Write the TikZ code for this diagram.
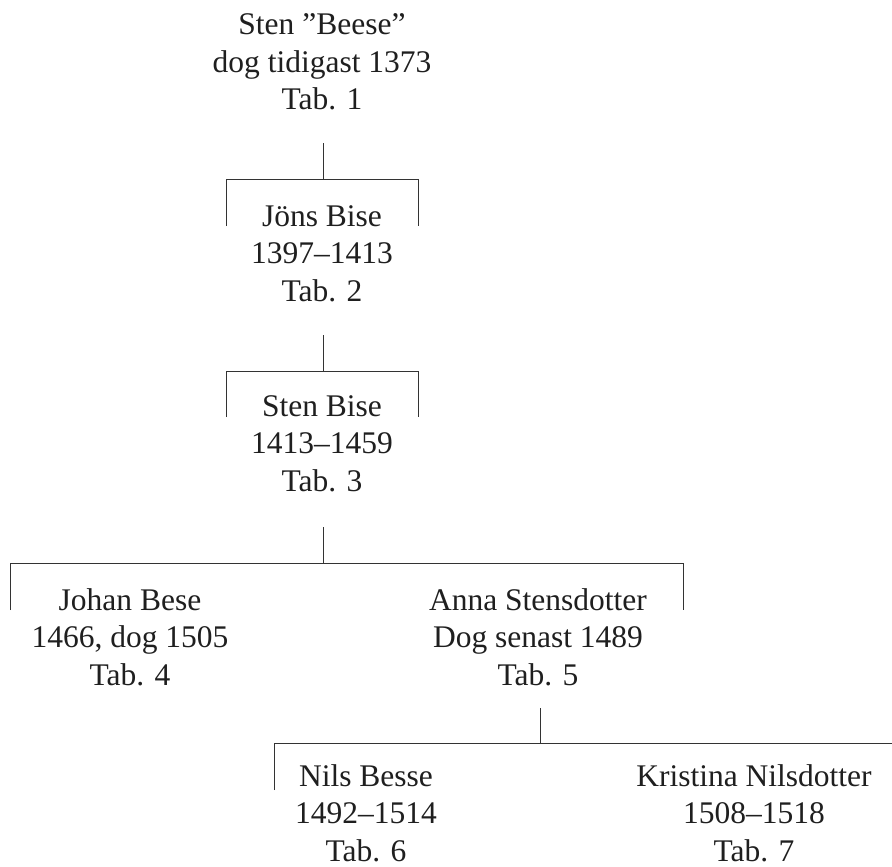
\documentclass[tikz,border=0pt]{standalone}
\usepackage{fontspec}
\setmainfont{Liberation Serif}
\newcommand\ptext[1]{\begin{tabular}[t]{@{}c@{}}#1\end{tabular}}
\begin{document}
\begin{tikzpicture}[x=1pt,y=-1pt,
  person/.style={inner sep=0pt, anchor=base, text=black!88,
    font=\fontsize{31.5}{37.5}\selectfont},
  link/.style={line width=0.9pt, draw=black!80}]
\useasboundingbox (0,0) rectangle (892,867);
% persons
\node[person] (p1) at (322,35) {\ptext{Sten ”Beese”\\dog tidigast 1373\\Tab. 1}};
\node[person] (p2) at (322,226) {\ptext{Jöns Bise\\1397–1413\\Tab. 2}};
\node[person] (p3) at (322,416) {\ptext{Sten Bise\\1413–1459\\Tab. 3}};
\node[person] (p4) at (130,610) {\ptext{Johan Bese\\1466, dog 1505\\Tab. 4}};
\node[person] (p5) at (538,610) {\ptext{Anna Stensdotter\\Dog senast 1489\\Tab. 5}};
\node[person] (p6) at (366,786) {\ptext{Nils Besse\\1492–1514\\Tab. 6}};
\node[person] (p7) at (754,786) {\ptext{Kristina Nilsdotter\\1508–1518\\Tab. 7}};
% bracket 1
\coordinate (t1) at (323,143); \coordinate (j1) at (323,179);
\coordinate (l1) at (226,226); \coordinate (r1) at (418,226);
\draw[link] (t1) -- (j1);
\draw[link] (l1) -- (l1 |- j1) -- (r1 |- j1) -- (r1);
% bracket 2
\coordinate (t2) at (323,335); \coordinate (j2) at (323,371);
\coordinate (l2) at (226,417); \coordinate (r2) at (418,417);
\draw[link] (t2) -- (j2);
\draw[link] (l2) -- (l2 |- j2) -- (r2 |- j2) -- (r2);
% bracket 3
\coordinate (t3) at (323,527); \coordinate (j3) at (323,563);
\coordinate (l3) at (10,610); \coordinate (r3) at (683,610);
\draw[link] (t3) -- (j3);
\draw[link] (l3) -- (l3 |- j3) -- (r3 |- j3) -- (r3);
% bracket 4
\coordinate (t4) at (540,708); \coordinate (j4) at (540,743);
\coordinate (l4) at (274,790); \coordinate (r4) at (895,743);
\draw[link] (t4) -- (j4);
\draw[link] (l4) -- (l4 |- j4) -- (r4);
\end{tikzpicture}
\end{document}
